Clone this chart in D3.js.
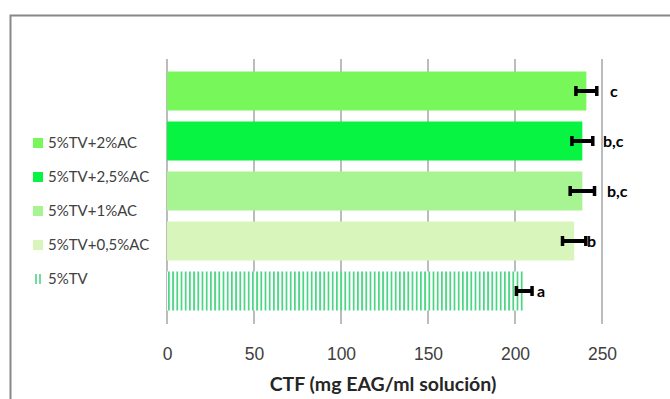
<!DOCTYPE html>
<html lang="es">
<head>
<meta charset="utf-8">
<title>CTF</title>
<script src="https://d3js.org/d3.v7.min.js"></script>
<style>
  body { margin: 0; background: #fff; }
  svg { font-family: Lato, "Open Sans", sans-serif; }
  .grid line { stroke: #a6a6a6; stroke-width: 1.5; }
  .axis--x path, .axis--x line { display: none; }
  .axis--x text { font-size: 17.5px; fill: #404040; }
</style>
</head>
<body>
<svg width="670" height="399"></svg>
<script>

// categories, top to bottom
var categories = ["5%TV+2%AC", "5%TV+2,5%AC", "5%TV+1%AC", "5%TV+0,5%AC", "5%TV"];
var values = [241, 238.7, 238.7, 234, 205.3];
var errors = [6, 6, 7, 6.7, 4.5];
var letters = ["c", "b,c", "b,c", "b", "a"];
var colors = ["#77f75a", "#07f443", "#a7f592", "#d8f6bc", "url(#stripes)"];
var ticks = [0, 50, 100, 150, 200, 250];

var svg = d3.select("svg");

// vertical stripes for the 5%TV bar
var pat = svg.append("defs").append("pattern")
    .attr("id", "stripes")
    .attr("patternUnits", "userSpaceOnUse")
    .attr("width", 4.2).attr("height", 10);
pat.append("rect").attr("width", 4.2).attr("height", 10).attr("fill", "#fff");
pat.append("rect").attr("width", 1.8).attr("height", 10).attr("fill", "#4cd585");

// chart frame
svg.append("path")
    .attr("d", "M10.5,399 V15.5 H670")
    .attr("fill", "none")
    .attr("stroke", "#888")
    .attr("stroke-width", 2);

var x = d3.scaleLinear().domain([0, 250]).range([167, 602]);
var y = d3.scaleBand().domain(categories).range([66, 316])
    .paddingInner(0.22).paddingOuter(0.11);

svg.append("g").attr("class", "grid")
  .selectAll("line")
  .data(ticks)
  .enter().append("line")
    .attr("x1", function(d) { return x(d); })
    .attr("x2", function(d) { return x(d); })
    .attr("y1", 59)
    .attr("y2", 324);

svg.selectAll(".bar")
  .data(categories)
  .enter().append("rect")
    .attr("class", "bar")
    .attr("x", x(0))
    .attr("y", function(d) { return y(d); })
    .attr("width", function(d, i) { return x(values[i]) - x(0); })
    .attr("height", y.bandwidth())
    .attr("fill", function(d, i) { return colors[i]; });

// error bars
var eb = svg.selectAll(".err")
  .data(categories)
  .enter().append("g")
    .attr("class", "err")
    .attr("transform", function(d) { return "translate(0," + (y(d) + y.bandwidth() / 2) + ")"; });
eb.append("line")
    .attr("x1", function(d, i) { return x(values[i] - errors[i]); })
    .attr("x2", function(d, i) { return x(values[i] + errors[i]); })
    .attr("stroke", "#000").attr("stroke-width", 4);
eb.append("line")
    .attr("x1", function(d, i) { return x(values[i] - errors[i]); })
    .attr("x2", function(d, i) { return x(values[i] - errors[i]); })
    .attr("y1", -5).attr("y2", 5)
    .attr("stroke", "#000").attr("stroke-width", 3.5);
eb.append("line")
    .attr("x1", function(d, i) { return x(values[i] + errors[i]); })
    .attr("x2", function(d, i) { return x(values[i] + errors[i]); })
    .attr("y1", -5).attr("y2", 5)
    .attr("stroke", "#000").attr("stroke-width", 3.5);

var letterX = [610, 603, 607, 587, 537];
eb.append("text")
    .attr("x", function(d, i) { return letterX[i]; })
    .attr("y", 0)
    .attr("dy", "0.35em")
    .attr("font-size", 16)
    .attr("font-weight", "bold")
    .text(function(d, i) { return letters[i]; });

svg.append("g")
    .attr("class", "axis axis--x")
    .attr("transform", "translate(0,340)")
    .call(d3.axisBottom(x).tickValues(ticks).tickSize(0).tickPadding(8));

svg.append("text")
    .attr("x", 383)
    .attr("y", 391)
    .attr("text-anchor", "middle")
    .attr("font-size", 19.5)
    .attr("font-weight", "bold")
    .attr("fill", "#262626")
    .text("CTF (mg EAG/ml solución)");

// legend
var legend = svg.selectAll(".legend")
  .data(categories)
  .enter().append("g")
    .attr("class", "legend")
    .attr("transform", function(d, i) { return "translate(33," + (143 + i * 34) + ")"; });
legend.filter(function(d, i) { return i < 4; }).append("rect")
    .attr("y", -5).attr("width", 10).attr("height", 10)
    .attr("fill", function(d) { return colors[categories.indexOf(d)]; });
legend.filter(function(d, i) { return i === 4; }).selectAll("line")
  .data([3, 7])
  .enter().append("line")
    .attr("x1", function(d) { return d; }).attr("x2", function(d) { return d; })
    .attr("y1", -5).attr("y2", 5)
    .attr("stroke", "#3fd27a").attr("stroke-width", 1.5);
legend.append("text")
    .attr("x", 15)
    .attr("dy", "0.35em")
    .attr("font-size", 15)
    .attr("fill", "#404040")
    .text(function(d) { return d; });

</script>
</body>
</html>
